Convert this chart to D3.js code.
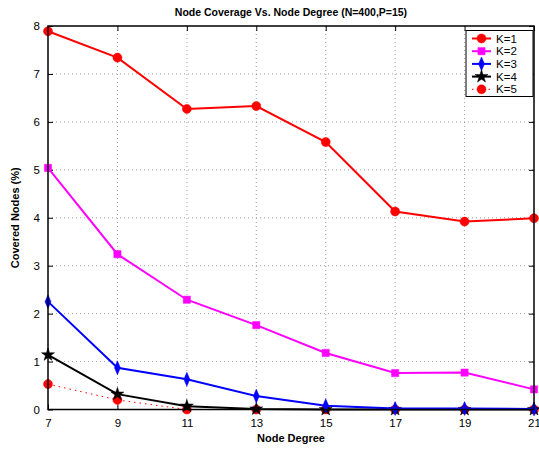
<!DOCTYPE html>
<html>
<head>
<meta charset="utf-8">
<script src="https://cdn.jsdelivr.net/npm/d3@7"></script>
<style>
  html, body { margin: 0; padding: 0; background: #fff; }
  svg text { font-family: "Liberation Sans", Arial, Helvetica, sans-serif; fill: #000; }
</style>
</head>
<body>
<svg id="chart" width="539" height="451"></svg>
<script>
// Node degree values on the x axis
const degrees = [7, 9, 11, 13, 15, 17, 19, 21];

// Covered nodes (%) for each K
const k1 = [7.89, 7.34, 6.27, 6.33, 5.58, 4.13, 3.92, 3.99];
const k2 = [5.04, 3.24, 2.29, 1.76, 1.18, 0.76, 0.77, 0.42];
const k3 = [2.25, 0.87, 0.63, 0.28, 0.08, 0.02, 0.02, 0.01];
const k4 = [1.14, 0.32, 0.07, 0.01, 0.0, 0.0, 0.0, 0.0];
const k5 = [0.53, 0.20, 0.0, 0.0, 0.0, 0.0, 0.0, 0.0];

const seriesNames = ["K=1", "K=2", "K=3", "K=4", "K=5"];
const seriesValues = [k1, k2, k3, k4, k5];

const xTicks = [7, 9, 11, 13, 15, 17, 19, 21];
const yTicks = [0, 1, 2, 3, 4, 5, 6, 7, 8];

const titleText = "Node Coverage Vs. Node Degree (N=400,P=15)";
const xLabelText = "Node Degree";
const yLabelText = "Covered Nodes (%)";

// Line and marker styling per series
const styles = [
  { color: "#ff0000", marker: "circle", dash: null, width: 2 },
  { color: "#ff00ff", marker: "square", dash: null, width: 2 },
  { color: "#0000ff", marker: "diamond", dash: null, width: 2 },
  { color: "#000000", marker: "star", dash: null, width: 2 },
  { color: "#ff0000", marker: "circle", dash: "1.5,4", width: 1 }
];

const svg = d3.select("#chart");
const plot = { left: 48, right: 534, top: 26, bottom: 409.5 };

const x = d3.scaleLinear().domain([7, 21]).range([plot.left, plot.right]);
const y = d3.scaleLinear().domain([0, 8]).range([plot.bottom, plot.top]);

// Dotted grid
const grid = svg.append("g");
grid.selectAll(".gx").data(xTicks.slice(1, -1)).enter().append("line")
  .attr("x1", d => x(d)).attr("x2", d => x(d))
  .attr("y1", plot.top).attr("y2", plot.bottom)
  .attr("stroke", "#8a8a8a").attr("stroke-width", 0.8).attr("stroke-dasharray", "1,3");
grid.selectAll(".gy").data(yTicks.slice(1, -1)).enter().append("line")
  .attr("x1", plot.left).attr("x2", plot.right)
  .attr("y1", d => y(d)).attr("y2", d => y(d))
  .attr("stroke", "#8a8a8a").attr("stroke-width", 0.8).attr("stroke-dasharray", "1,3");

// Axes with inward ticks (bottom/left labelled, top/right mirrored)
const tickLen = 5;
const xAxis = d3.axisBottom(x).tickValues(xTicks).tickSize(-tickLen).tickPadding(tickLen + 4).tickFormat(d3.format("d"));
const yAxis = d3.axisLeft(y).tickValues(yTicks).tickSize(-tickLen).tickPadding(tickLen + 3).tickFormat(d3.format("d"));
const xAxisTop = d3.axisTop(x).tickValues(xTicks).tickSize(-tickLen).tickFormat("");
const yAxisRight = d3.axisRight(y).tickValues(yTicks).tickSize(-tickLen).tickFormat("");

function styleAxis(g) {
  g.select(".domain").remove();
  g.selectAll(".tick line").attr("stroke", "#000").attr("stroke-width", 1);
  g.selectAll(".tick text").attr("font-size", 11.5).attr("fill", "#000")
    .style("font-family", "'Liberation Sans', Arial, sans-serif");
}

svg.append("g").attr("transform", `translate(0,${plot.bottom})`).call(xAxis).call(styleAxis);
svg.append("g").attr("transform", `translate(${plot.left},0)`).call(yAxis).call(styleAxis);
svg.append("g").attr("transform", `translate(0,${plot.top})`).call(xAxisTop).call(styleAxis);
svg.append("g").attr("transform", `translate(${plot.right},0)`).call(yAxisRight).call(styleAxis);

// Marker shapes
const symbolFor = {
  circle: d3.symbol().type(d3.symbolCircle).size(64),
  square: d3.symbol().type(d3.symbolSquare).size(52),
  diamond: d3.symbol().type(d3.symbolDiamond).size(42),
  star: d3.symbol().type(d3.symbolStar).size(52)
};
const markerScale = m => (m === "diamond" ? " scale(0.85,1.15)" : "");

const line = d3.line().x((d, i) => x(degrees[i])).y(d => y(d));

// Draw series from last to first so K=1 sits on top
for (let s = seriesValues.length - 1; s >= 0; s--) {
  const st = styles[s];
  const g = svg.append("g");
  g.append("path").datum(seriesValues[s])
    .attr("d", line)
    .attr("fill", "none")
    .attr("stroke", st.color)
    .attr("stroke-width", st.width)
    .attr("stroke-dasharray", st.dash);
  g.selectAll("path.m").data(seriesValues[s]).enter().append("path")
    .attr("class", "m")
    .attr("d", symbolFor[st.marker])
    .attr("transform", (d, i) => `translate(${x(degrees[i])},${y(d)})${markerScale(st.marker)}`)
    .attr("fill", st.color)
    .attr("stroke", st.color)
    .attr("stroke-width", 0.5);
}

// Plot frame
svg.append("rect")
  .attr("x", plot.left).attr("y", plot.top)
  .attr("width", plot.right - plot.left).attr("height", plot.bottom - plot.top)
  .attr("fill", "none").attr("stroke", "#000").attr("stroke-width", 1.5);

// Legend
const legend = svg.append("g");
const lg = { x: 466, y: 30.5, w: 67, h: 66 };
legend.append("rect")
  .attr("x", lg.x).attr("y", lg.y).attr("width", lg.w).attr("height", lg.h)
  .attr("fill", "#fff").attr("stroke", "#000").attr("stroke-width", 1);
seriesNames.forEach((name, i) => {
  const st = styles[i];
  const cy = lg.y + 8 + i * 12.7;
  legend.append("line")
    .attr("x1", lg.x + 6).attr("x2", lg.x + 25)
    .attr("y1", cy).attr("y2", cy)
    .attr("stroke", st.color).attr("stroke-width", st.width)
    .attr("stroke-dasharray", st.dash);
  legend.append("path")
    .attr("d", symbolFor[st.marker])
    .attr("transform", `translate(${lg.x + 15.5},${cy})${markerScale(st.marker)}`)
    .attr("fill", st.color).attr("stroke", st.color).attr("stroke-width", 0.5);
  legend.append("text")
    .attr("x", lg.x + 30).attr("y", cy + 4)
    .attr("font-size", 11.5)
    .text(name);
});

// Title and axis labels
svg.append("text")
  .attr("x", (plot.left + plot.right) / 2).attr("y", 16)
  .attr("text-anchor", "middle").attr("font-size", 10.5).attr("font-weight", "bold")
  .text(titleText);
svg.append("text")
  .attr("x", (plot.left + plot.right) / 2).attr("y", 442)
  .attr("text-anchor", "middle").attr("font-size", 11).attr("font-weight", "bold")
  .text(xLabelText);
svg.append("text")
  .attr("transform", `translate(19,${(plot.top + plot.bottom) / 2}) rotate(-90)`)
  .attr("text-anchor", "middle").attr("font-size", 11).attr("font-weight", "bold")
  .text(yLabelText);
</script>
</body>
</html>
